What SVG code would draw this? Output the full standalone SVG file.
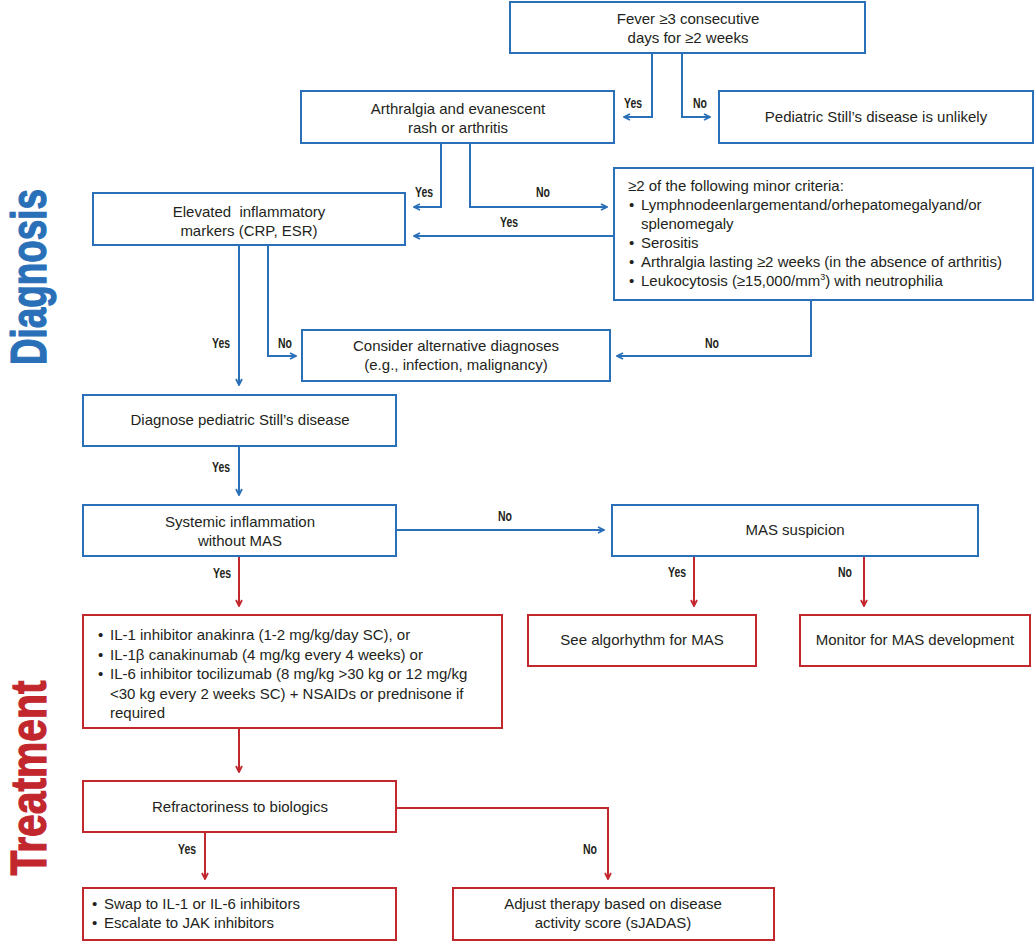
<svg xmlns="http://www.w3.org/2000/svg" width="1036" height="944" viewBox="0 0 1036 944">
<style>
.bb{fill:#fff;stroke:#2a70b8;stroke-width:2}
.rb{fill:#fff;stroke:#c1272d;stroke-width:2}
.t{font-family:"Liberation Sans",Arial,sans-serif;font-size:15px;fill:#231f20}
.c{text-anchor:middle}
.lb{font-family:"Liberation Sans",Arial,sans-serif;font-weight:bold;font-size:15px;fill:#231f20;text-anchor:middle}
.bl{fill:none;stroke:#2a70b8;stroke-width:2}
.rl{fill:none;stroke:#c1272d;stroke-width:2}
.side{font-family:"Liberation Sans",Arial,sans-serif;font-weight:bold;font-size:50px;text-anchor:middle;stroke-width:1.2}
</style>
<defs>
<marker id="ab" viewBox="0 0 8 8" refX="7" refY="4" markerWidth="8" markerHeight="8" markerUnits="userSpaceOnUse" orient="auto"><path d="M1,1 L7,4 L1,7" fill="none" stroke="#2a70b8" stroke-width="1.8"/></marker>
<marker id="ar" viewBox="0 0 8 8" refX="7" refY="4" markerWidth="8" markerHeight="8" markerUnits="userSpaceOnUse" orient="auto"><path d="M1,1 L7,4 L1,7" fill="none" stroke="#c1272d" stroke-width="1.8"/></marker>
</defs>
<rect width="1036" height="944" fill="#fff"/>
<text class="side" fill="#2a70b8" stroke="#2a70b8" transform="translate(46,277) rotate(-90)" textLength="176" lengthAdjust="spacingAndGlyphs">Diagnosis</text>
<text class="side" fill="#c1272d" stroke="#c1272d" transform="translate(46,778) rotate(-90)" textLength="195" lengthAdjust="spacingAndGlyphs">Treatment</text>

<g id="connectors">
<path class="bl" d="M652,53 V117 H624" marker-end="url(#ab)"/>
<path class="bl" d="M682,53 V117 H710" marker-end="url(#ab)"/>
<path class="bl" d="M441,143 V207 H414" marker-end="url(#ab)"/>
<path class="bl" d="M470,143 V207 H607" marker-end="url(#ab)"/>
<path class="bl" d="M614,236 H414" marker-end="url(#ab)"/>
<path class="bl" d="M239,245 V385" marker-end="url(#ab)"/>
<path class="bl" d="M268,245 V356 H296" marker-end="url(#ab)"/>
<path class="bl" d="M811,300 V356 H617" marker-end="url(#ab)"/>
<path class="bl" d="M239,446 V495" marker-end="url(#ab)"/>
<path class="bl" d="M396,530 H604" marker-end="url(#ab)"/>
<path class="rl" d="M239,556 V606" marker-end="url(#ar)"/>
<path class="rl" d="M694,556 V606" marker-end="url(#ar)"/>
<path class="rl" d="M864,556 V606" marker-end="url(#ar)"/>
<path class="rl" d="M239,728 V772" marker-end="url(#ar)"/>
<path class="rl" d="M205,832 V879" marker-end="url(#ar)"/>
<path class="rl" d="M396,808 H608 V879" marker-end="url(#ar)"/>
<text class="lb" x="633" y="108" textLength="18" lengthAdjust="spacingAndGlyphs">Yes</text>
<text class="lb" x="700" y="108" textLength="14" lengthAdjust="spacingAndGlyphs">No</text>
<text class="lb" x="424" y="197" textLength="18" lengthAdjust="spacingAndGlyphs">Yes</text>
<text class="lb" x="543" y="197" textLength="14" lengthAdjust="spacingAndGlyphs">No</text>
<text class="lb" x="509" y="227" textLength="18" lengthAdjust="spacingAndGlyphs">Yes</text>
<text class="lb" x="221" y="348" textLength="18" lengthAdjust="spacingAndGlyphs">Yes</text>
<text class="lb" x="285" y="348" textLength="14" lengthAdjust="spacingAndGlyphs">No</text>
<text class="lb" x="712" y="348" textLength="14" lengthAdjust="spacingAndGlyphs">No</text>
<text class="lb" x="221" y="472" textLength="18" lengthAdjust="spacingAndGlyphs">Yes</text>
<text class="lb" x="505" y="521" textLength="14" lengthAdjust="spacingAndGlyphs">No</text>
<text class="lb" x="222" y="578" textLength="18" lengthAdjust="spacingAndGlyphs">Yes</text>
<text class="lb" x="677" y="577" textLength="18" lengthAdjust="spacingAndGlyphs">Yes</text>
<text class="lb" x="845" y="577" textLength="14" lengthAdjust="spacingAndGlyphs">No</text>
<text class="lb" x="187" y="854" textLength="18" lengthAdjust="spacingAndGlyphs">Yes</text>
<text class="lb" x="590" y="854" textLength="14" lengthAdjust="spacingAndGlyphs">No</text>
</g>

<g id="fever"><rect class="bb" x="510" y="2" width="355" height="51"/>
<text class="t c" x="688" y="24">Fever ≥3 consecutive</text><text class="t c" x="688" y="43">days for ≥2 weeks</text></g>
<g id="arthralgia"><rect class="bb" x="301" y="91" width="313" height="52"/>
<text class="t c" x="458" y="114">Arthralgia and evanescent</text><text class="t c" x="458" y="133">rash or arthritis</text></g>
<g id="unlikely"><rect class="bb" x="719" y="91" width="314" height="52"/>
<text class="t c" x="876" y="122">Pediatric Still’s disease is unlikely</text></g>
<g id="elevated"><rect class="bb" x="93" y="193" width="312" height="52"/>
<text class="t c" x="249" y="217" xml:space="preserve">Elevated  inflammatory</text><text class="t c" x="249" y="236">markers (CRP, ESR)</text></g>
<g id="minor"><rect class="bb" x="614" y="168" width="419" height="132"/>
<text class="t" x="628" y="191">≥2 of the following minor criteria:</text>
<text class="t" x="629" y="210">•</text><text class="t" x="641" y="210">Lymphnodeenlargementand/orhepatomegalyand/or</text>
<text class="t" x="641" y="229">splenomegaly</text>
<text class="t" x="629" y="248">•</text><text class="t" x="641" y="248">Serositis</text>
<text class="t" x="629" y="267">•</text><text class="t" x="641" y="267">Arthralgia lasting ≥2 weeks (in the absence of arthritis)</text>
<text class="t" x="629" y="286">•</text><text class="t" x="641" y="286">Leukocytosis (≥15,000/mm<tspan font-size="9" dy="-6">3</tspan><tspan dy="6">) with neutrophilia</tspan></text></g>
<g id="consider"><rect class="bb" x="302" y="330" width="308" height="51"/>
<text class="t c" x="456" y="351">Consider alternative diagnoses</text><text class="t c" x="456" y="370">(e.g., infection, malignancy)</text></g>
<g id="diagnose"><rect class="bb" x="83" y="395" width="313" height="51"/>
<text class="t c" x="240" y="425">Diagnose pediatric Still’s disease</text></g>
<g id="systemic"><rect class="bb" x="83" y="505" width="313" height="51"/>
<text class="t c" x="240" y="527">Systemic inflammation</text><text class="t c" x="240" y="546">without MAS</text></g>
<g id="mas"><rect class="bb" x="612" y="505" width="366" height="51"/>
<text class="t c" x="795" y="535">MAS suspicion</text></g>
<g id="see"><rect class="rb" x="528" y="615" width="228" height="51"/>
<text class="t c" x="642" y="645">See algorhythm for MAS</text></g>
<g id="monitor"><rect class="rb" x="800" y="615" width="230" height="51"/>
<text class="t c" x="915" y="645">Monitor for MAS development</text></g>
<g id="il"><rect class="rb" x="83" y="615" width="419" height="113"/>
<text class="t" x="98" y="640">•</text><text class="t" x="110" y="640">IL-1 inhibitor anakinra (1-2 mg/kg/day SC), or</text>
<text class="t" x="98" y="660">•</text><text class="t" x="110" y="660">IL-1β canakinumab (4 mg/kg every 4 weeks) or</text>
<text class="t" x="98" y="679">•</text><text class="t" x="110" y="679">IL-6 inhibitor tocilizumab (8 mg/kg &gt;30 kg or 12 mg/kg</text>
<text class="t" x="110" y="699">&lt;30 kg every 2 weeks SC) + NSAIDs or prednisone if</text>
<text class="t" x="110" y="718">required</text></g>
<g id="refractory"><rect class="rb" x="83" y="781" width="313" height="51"/>
<text class="t c" x="240" y="812">Refractoriness to biologics</text></g>
<g id="swap"><rect class="rb" x="83" y="888" width="313" height="52"/>
<text class="t" x="92" y="909">•</text><text class="t" x="104" y="909">Swap to IL-1 or IL-6 inhibitors</text>
<text class="t" x="92" y="928">•</text><text class="t" x="104" y="928">Escalate to JAK inhibitors</text></g>
<g id="adjust"><rect class="rb" x="453" y="888" width="321" height="52"/>
<text class="t c" x="613" y="909">Adjust therapy based on disease</text><text class="t c" x="613" y="928">activity score (sJADAS)</text></g>
</svg>
